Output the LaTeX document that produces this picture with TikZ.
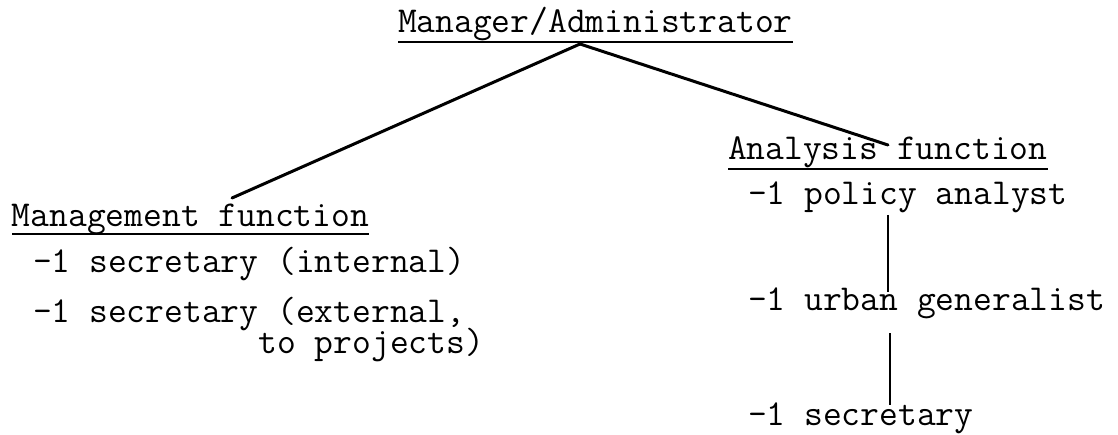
\documentclass[tikz,border=0pt]{standalone}
\usepackage{fontspec}
\usetikzlibrary{calc}
\newcommand\twfont{\fontsize{36.5}{31}\ttfamily\lineskiplimit=-100pt\relax\lineskip=0pt\relax}
\begin{document}
\begin{tikzpicture}[x=1pt,y=-1pt,
  lbl/.style={anchor=base west,inner sep=0pt,outer sep=0pt,font=\twfont},
  link/.style={line width=3pt,line cap=round},
  uline/.style={line width=2pt},
  vlink/.style={line width=2.2pt}]
\useasboundingbox (0,0) rectangle (1118,435);
% texts
\node[lbl] (title) at (398,33) {Manager/Administrator};
\node[lbl] (mgmt) at (12,227) {Management function};
\node[lbl] (sec1) at (33,273) {-1 secretary (internal)};
\node[lbl,align=left] (sec2) at (33,353) {-1 secretary (external,\\\hphantom{-1 secretary}to projects)};
\node[lbl] (anal) at (728,160) {Analysis function};
\node[lbl] (policy) at (748,205) {-1 policy analyst};
\node[lbl] (urban) at (748,310) {-1 urban generalist};
\node[lbl] (sec3) at (748,425) {-1 secretary};
% underlines
\draw[uline] ($(title.base west)+(0,9)$) -- ($(title.base east)+(0,9)$);
\draw[uline] ($(mgmt.base west)+(0,7)$) -- ($(mgmt.base east)+(0,7)$);
\draw[uline] ($(anal.base west)+(0,9)$) -- ($(anal.base east)+(0,9)$);
% connector ends
\coordinate (apex) at (580,44);
\coordinate (lend) at (232,198);
\coordinate (rend) at (888,145);
\coordinate (v1a) at (888,215);
\coordinate (v1b) at (888,292);
\coordinate (v2a) at (890,333);
\coordinate (v2b) at (890,405);
\draw[link] (apex) -- (lend);
\draw[link] (apex) -- (rend);
\draw[vlink] (v1a) -- (v1b);
\draw[vlink] (v2a) -- (v2b);
\end{tikzpicture}
\end{document}
